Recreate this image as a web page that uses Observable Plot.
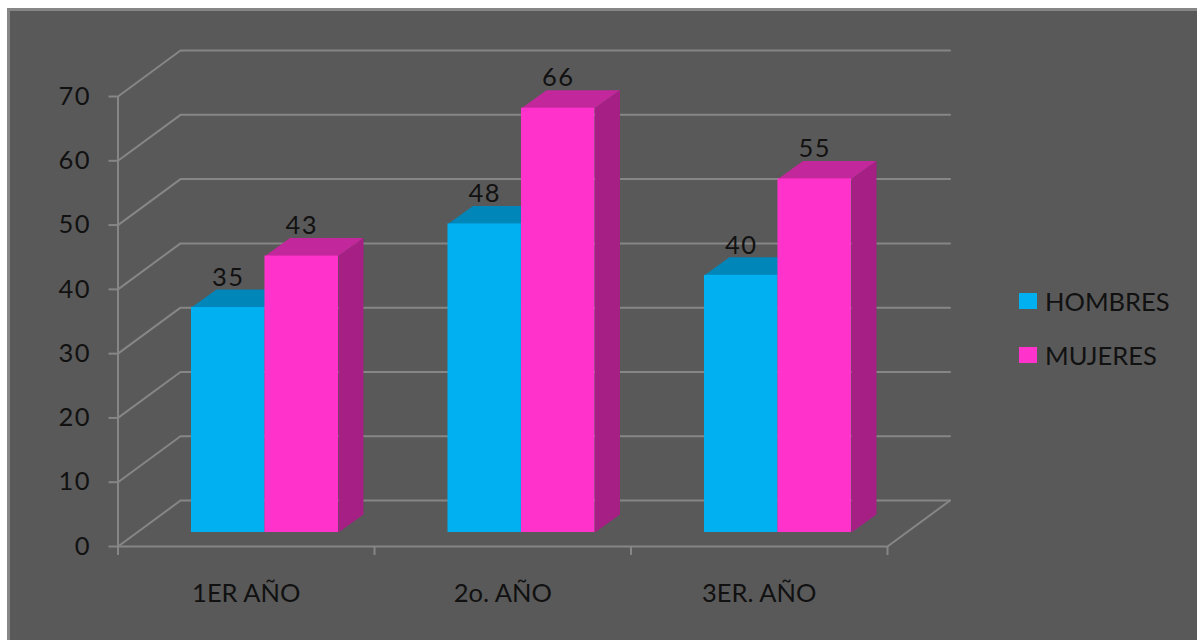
<!DOCTYPE html>
<html>
<head>
<meta charset="utf-8">
<script src="https://cdn.jsdelivr.net/npm/d3@7"></script>
<script src="https://cdn.jsdelivr.net/npm/@observablehq/plot@0.6"></script>
<style>
  html, body { margin: 0; padding: 0; background: #fff; }
  #panel { position: absolute; left: 7px; top: 8px; width: 1190px; height: 632px; box-sizing: border-box;
           background: #595959; border-left: 3px solid #868686; border-top: 3px solid #868686; }
  #chart { position: absolute; left: 0; top: 0; }
  #chart svg { background: transparent; display: block; }
  .digits text { letter-spacing: 1.5px; }
  .key { position: absolute; left: 1019px; display: flex; align-items: center; gap: 8px;
         font: 25.5px Lato, sans-serif; color: #111; line-height: 30px; }
  .key i { display: block; width: 18px; height: 16px; }
</style>
</head>
<body>
<div id="panel"></div>
<div id="chart"></div>
<script>
// Matriculation by school year and sex
const years = ["1ER AÑO", "2o. AÑO", "3ER. AÑO"];
const hombres = [35, 48, 40];
const mujeres = [43, 66, 55];
const yTicks = [0, 10, 20, 30, 40, 50, 60, 70];

const faceColors = {
  HOMBRES: {front: "#00B0F0", top: "#0086B8", side: "#007DAD"},
  MUJERES: {front: "#FF33CC", top: "#C2279B", side: "#A61F85"}
};

// Oblique projection, expressed in axis units
const wallDx = 0.2437, wallDy = 7.15;   // floor depth
const baseDy = 2.18;                    // bar fronts sit this far up the floor
const barDx = 0.0975, barDy = 2.8;      // depth of a bar
const barInset = 0.2865, barWidth = 0.2865;

const bars = years.flatMap((year, g) => [
  {year, g, serie: "HOMBRES", value: hombres[g], x1: g + barInset, x2: g + barInset + barWidth},
  {year, g, serie: "MUJERES", value: mujeres[g], x1: g + barInset + barWidth, x2: g + barInset + 2 * barWidth}
]);

// One closed outline per bar face, top and side
const facePoints = (face) => bars.flatMap((b, i) => {
  const yTop = b.value + baseDy, yLow = baseDy;
  const corners = face === "top"
    ? [[b.x1, yTop], [b.x1 + barDx, yTop + barDy], [b.x2 + barDx, yTop + barDy], [b.x2, yTop]]
    : [[b.x2, yTop], [b.x2 + barDx, yTop + barDy], [b.x2 + barDx, yLow + barDy], [b.x2, yLow]];
  return corners.map(([x, y]) => ({x, y, id: i, fill: faceColors[b.serie][face]}));
});

const gridPoints = yTicks.flatMap((v) => [
  {x: 0, y: v, v},
  {x: wallDx, y: v + wallDy, v},
  {x: years.length + wallDx, y: v + wallDy, v}
]);
const floorEdge = [
  {x: years.length, y: 0},
  {x: years.length + wallDx, y: wallDy}
];

const axisStroke = "#868686";
const inkColor = "#111";
const fontSize = 25.5;

const chart = Plot.plot({
  width: 1197,
  height: 640,
  marginLeft: 117.5,
  marginRight: 310,
  marginTop: 96,
  marginBottom: 94,
  style: {background: "transparent", fontFamily: "Lato, sans-serif"},
  x: {type: "linear", domain: [0, years.length], axis: null},
  y: {type: "linear", domain: [0, 70], axis: null},
  marks: [
    Plot.line(gridPoints, {x: "x", y: "y", z: "v", stroke: axisStroke, strokeWidth: 2}),
    Plot.line(floorEdge, {x: "x", y: "y", stroke: axisStroke, strokeWidth: 2}),
    Plot.ruleX([0], {y1: 0, y2: 70, stroke: axisStroke, strokeWidth: 2}),
    Plot.ruleY([0], {x1: 0, x2: years.length, stroke: axisStroke, strokeWidth: 2}),
    Plot.axisY({ticks: yTicks, anchor: "left", tickSize: 9, tickPadding: 18, stroke: axisStroke, strokeWidth: 2,
      fill: inkColor, fontSize, label: null, className: "digits"}),
    Plot.axisX({ticks: d3.range(years.length + 1), anchor: "bottom", tickSize: 9, stroke: axisStroke, strokeWidth: 2,
      tickFormat: () => "", label: null}),
    Plot.text(years, {x: (d, i) => i + 0.5, y: 0, dy: 47, text: (d) => d, fill: inkColor, fontSize}),
    Plot.line(facePoints("top"), {x: "x", y: "y", z: "id", fill: "fill", stroke: null}),
    Plot.line(facePoints("side"), {x: "x", y: "y", z: "id", fill: "fill", stroke: null}),
    Plot.rect(bars, {x1: "x1", x2: "x2", y1: baseDy, y2: (d) => d.value + baseDy,
      fill: (d) => faceColors[d.serie].front}),
    Plot.text(bars, {x: (d) => (d.x1 + d.x2) / 2, y: (d) => d.value + baseDy, dy: -30, text: "value",
      fill: inkColor, fontSize, className: "digits"})
  ]
});
document.getElementById("chart").appendChild(chart);

// Series key to the right of the plot
for (const [name, top] of [["HOMBRES", 286], ["MUJERES", 340]]) {
  const row = document.createElement("div");
  row.className = "key";
  row.style.top = top + "px";
  const swatch = document.createElement("i");
  swatch.style.background = faceColors[name].front;
  row.append(swatch, name);
  document.body.appendChild(row);
}
</script>
</body>
</html>
